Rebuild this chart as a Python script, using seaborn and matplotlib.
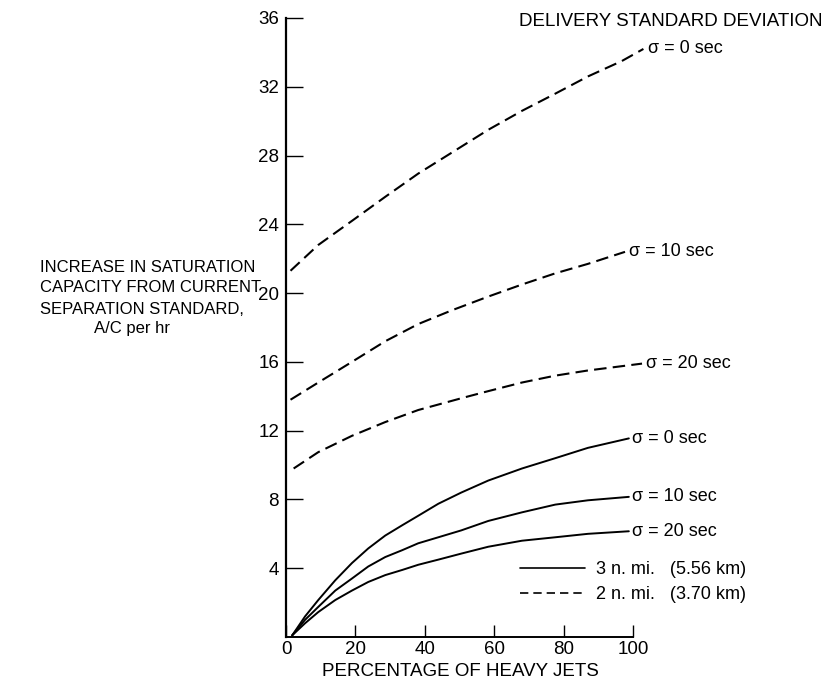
import matplotlib
matplotlib.use("Agg")
import matplotlib.pyplot as plt
import seaborn as sns
from matplotlib.lines import Line2D

sns.set_style("ticks")
plt.rcParams['font.family'] = ['Liberation Sans', 'DejaVu Sans']
plt.rcParams['text.color'] = 'black'
plt.rcParams['axes.labelcolor'] = 'black'
plt.rcParams['xtick.color'] = 'black'
plt.rcParams['ytick.color'] = 'black'
plt.rcParams['axes.edgecolor'] = 'black'

# data (percentage of heavy jets -> capacity increase)
# 2 n. mi. separation (dashed)
x_2nm_s0 = [1.3, 9.3, 19, 28.6, 38.1, 48.8, 58.3, 68, 77.6, 87, 96.8, 103]
y_2nm_s0 = [21.3, 22.8, 24.2, 25.6, 26.95, 28.3, 29.5, 30.6, 31.6, 32.6, 33.5, 34.2]
x_2nm_s10 = [1.3, 9.3, 19, 28.6, 38.1, 47.8, 58.3, 68, 77.6, 87, 97.7]
y_2nm_s10 = [13.8, 14.8, 16.0, 17.2, 18.2, 19.0, 19.8, 20.5, 21.15, 21.7, 22.4]
x_2nm_s20 = [2.2, 9.3, 19, 28.6, 38.1, 51.7, 58.3, 68, 77.6, 87, 102.6]
y_2nm_s20 = [9.8, 10.75, 11.7, 12.5, 13.2, 13.95, 14.3, 14.8, 15.2, 15.5, 15.9]
# 3 n. mi. separation (solid)
x_3nm = [1.8, 5.5, 9.3, 14.2, 19, 23.7, 28.6, 33.5, 38.1, 43.9, 50.5, 58.3, 68, 77.6, 87, 98.8]
y_3nm_s0 = [0.1, 1.2, 2.15, 3.3, 4.3, 5.15, 5.9, 6.5, 7.05, 7.75, 8.4, 9.1, 9.8, 10.4, 11.0, 11.55]
y_3nm_s10 = [0.1, 1.0, 1.75, 2.7, 3.4, 4.1, 4.65, 5.05, 5.45, 5.8, 6.2, 6.75, 7.25, 7.7, 7.95, 8.15]
y_3nm_s20 = [0.1, 0.8, 1.45, 2.15, 2.7, 3.2, 3.6, 3.9, 4.2, 4.5, 4.85, 5.25, 5.6, 5.8, 6.0, 6.15]

labels_2nm = ["σ = 0 sec", "σ = 10 sec", "σ = 20 sec"]
labels_3nm = ["σ = 0 sec", "σ = 10 sec", "σ = 20 sec"]
legend_labels = ["3 n. mi.   (5.56 km)", "2 n. mi.   (3.70 km)"]

W, H = 830, 683
fig = plt.figure(figsize=(W / 100, H / 100), dpi=100)
x0, x100 = 286, 633
xmax = 107
ax_w = (x100 - x0) / 100 * xmax
ax = fig.add_axes([x0 / W, (H - 637) / H, ax_w / W, (637 - 18) / H])

dashed = [(x_2nm_s0, y_2nm_s0), (x_2nm_s10, y_2nm_s10), (x_2nm_s20, y_2nm_s20)]
solid = [y_3nm_s0, y_3nm_s10, y_3nm_s20]

for (xs, ys), lab in zip(dashed, labels_2nm):
    sns.lineplot(x=xs, y=ys, ax=ax, color="black", lw=1.5)
    ax.lines[-1].set_dashes((6, 3))
    ax.annotate(lab, (xs[-1], ys[-1]), xytext=(3, 0), textcoords="offset points",
                va="center", ha="left", fontsize=13)

for ys, lab in zip(solid, labels_3nm):
    sns.lineplot(x=x_3nm, y=ys, ax=ax, color="black", lw=1.4)
    ax.annotate(lab, (x_3nm[-1], ys[-1]), xytext=(2, 0), textcoords="offset points",
                va="center", ha="left", fontsize=13)

ax.set_xlim(0, xmax)
ax.set_ylim(0, 36)
ax.set_xticks([0, 20, 40, 60, 80, 100])
ax.set_yticks([4, 8, 12, 16, 20, 24, 28, 32, 36])
ax.spines['top'].set_visible(False)
ax.spines['right'].set_visible(False)
ax.spines['bottom'].set_bounds(0, 100)
ax.spines['left'].set_linewidth(1.6)
ax.spines['bottom'].set_linewidth(1.4)
ax.tick_params(axis='y', direction='in', length=12, width=1, labelsize=13.5, pad=5)
ax.tick_params(axis='x', direction='in', length=9, width=1, labelsize=13.5, pad=3)
ax.set_xlabel("PERCENTAGE OF HEAVY JETS", fontsize=13.5)
ax.xaxis.set_label_coords((460 - x0) / ax_w, -0.042)

ylab = ["INCREASE IN SATURATION", "CAPACITY FROM CURRENT", "SEPARATION STANDARD,"]
for i, line in enumerate(ylab):
    fig.text(40 / W, 1 - (267 + 21 * i) / H, line, fontsize=12, va="center", ha="left")
fig.text(94 / W, 1 - 329 / H, "A/C per hr", fontsize=12, va="center", ha="left")

fig.text(822 / W, 1 - 21 / H, "DELIVERY STANDARD DEVIATION", fontsize=13.5, va="center", ha="right")

handles = [Line2D([], [], color="black", lw=1.2),
           Line2D([], [], color="black", lw=1.2, dashes=(5, 3))]
fig.legend(handles, legend_labels,
           loc="upper left", bbox_to_anchor=(520 / W, 1 - 561 / H), frameon=False,
           fontsize=13, handlelength=3.6, handletextpad=0.6, labelspacing=0.45,
           borderpad=0, borderaxespad=0)

fig.savefig("out.png", dpi=100)
